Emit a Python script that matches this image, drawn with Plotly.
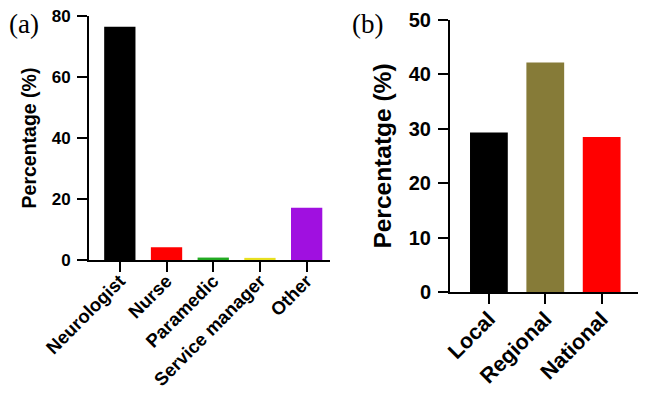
import plotly.graph_objects as go

# Panel (a)
roles = ["Neurologist", "Nurse", "Paramedic", "Service manager", "Other"]
role_pct = [76.5, 4.2, 0.8, 0.7, 17.1]
role_colors = ["#000000", "#FF0000", "#22AA22", "#E8E020", "#A010E0"]

# Panel (b)
levels = ["Local", "Regional", "National"]
level_pct = [29.3, 42.2, 28.5]
level_colors = ["#000000", "#867B38", "#FF0000"]

# page body has an 8px margin; figure sized to end at the window edge
OFF = 8
W, H = 638, 387

def dx(a, b):
    return [max(0, (a - OFF) / W), min(1, (b - OFF) / W)]

def dy(top, bottom):
    return [max(0, 1 - (bottom - OFF) / H), min(1, 1 - (top - OFF) / H)]

fig = go.Figure()
fig.add_trace(go.Bar(x=roles, y=role_pct, marker=dict(color=role_colors, line=dict(width=0)),
                     xaxis="x", yaxis="y", showlegend=False))
fig.add_trace(go.Bar(x=levels, y=level_pct, marker=dict(color=level_colors, line=dict(width=0)),
                     xaxis="x2", yaxis="y2", showlegend=False))

fam = "Liberation Sans, Arial, sans-serif"

def xax(domain, rng, anchor, size, standoff):
    return dict(domain=domain, range=rng, anchor=anchor, showline=True, linecolor="black",
                linewidth=2, ticks="outside", ticklen=10, tickwidth=2, tickcolor="black",
                tickangle=-45, showgrid=False, zeroline=False, automargin=False,
                ticklabelstandoff=standoff, ticklabeloverflow="allow",
                tickfont=dict(family=fam, size=size, color="black", weight="bold"))

def yax(domain, rng, anchor, dtick, size, title, tsize):
    return dict(domain=domain, range=rng, anchor=anchor, showline=True, linecolor="black",
                linewidth=2, ticks="outside", ticklen=10, tickwidth=2, tickcolor="black",
                dtick=dtick, showgrid=False, zeroline=False, ticklabelstandoff=3,
                automargin=False, ticklabeloverflow="allow",
                tickfont=dict(family=fam, size=size, color="black", weight="bold"),
                title=dict(text=title, standoff=10,
                           font=dict(family=fam, size=tsize, color="black", weight="bold")))

fig.update_layout(
    width=W, height=H,
    margin=dict(l=0, r=0, t=0, b=0, autoexpand=False),
    paper_bgcolor="white", plot_bgcolor="white",
    bargap=0.33,
    xaxis=xax(dx(89, 330), [-0.66, 4.5], "y", 18.5, -9),
    yaxis=yax(dy(16, 260), [0, 80], "x", 20, 17, "Percentage (%)", 19.5),
    xaxis2=xax(dx(450, 640), [-0.69, 2.68], "y2", 21.5, -6),
    yaxis2=yax(dy(20, 292), [0, 50], "x2", 10, 20, "Percentatge (%)", 24.5),
    annotations=[
        dict(text="(a)", x=0, y=1, xref="paper", yref="paper", xanchor="left",
             yanchor="top", showarrow=False, borderpad=0,
             font=dict(family="Liberation Serif, Times New Roman, serif", size=27, color="black")),
        dict(text="(b)", x=(351 - OFF) / W, y=1, xref="paper", yref="paper",
             xanchor="left", yanchor="top", showarrow=False, borderpad=0,
             font=dict(family="Liberation Serif, Times New Roman, serif", size=27, color="black")),
    ],
)

fig.write_html("out.html")
